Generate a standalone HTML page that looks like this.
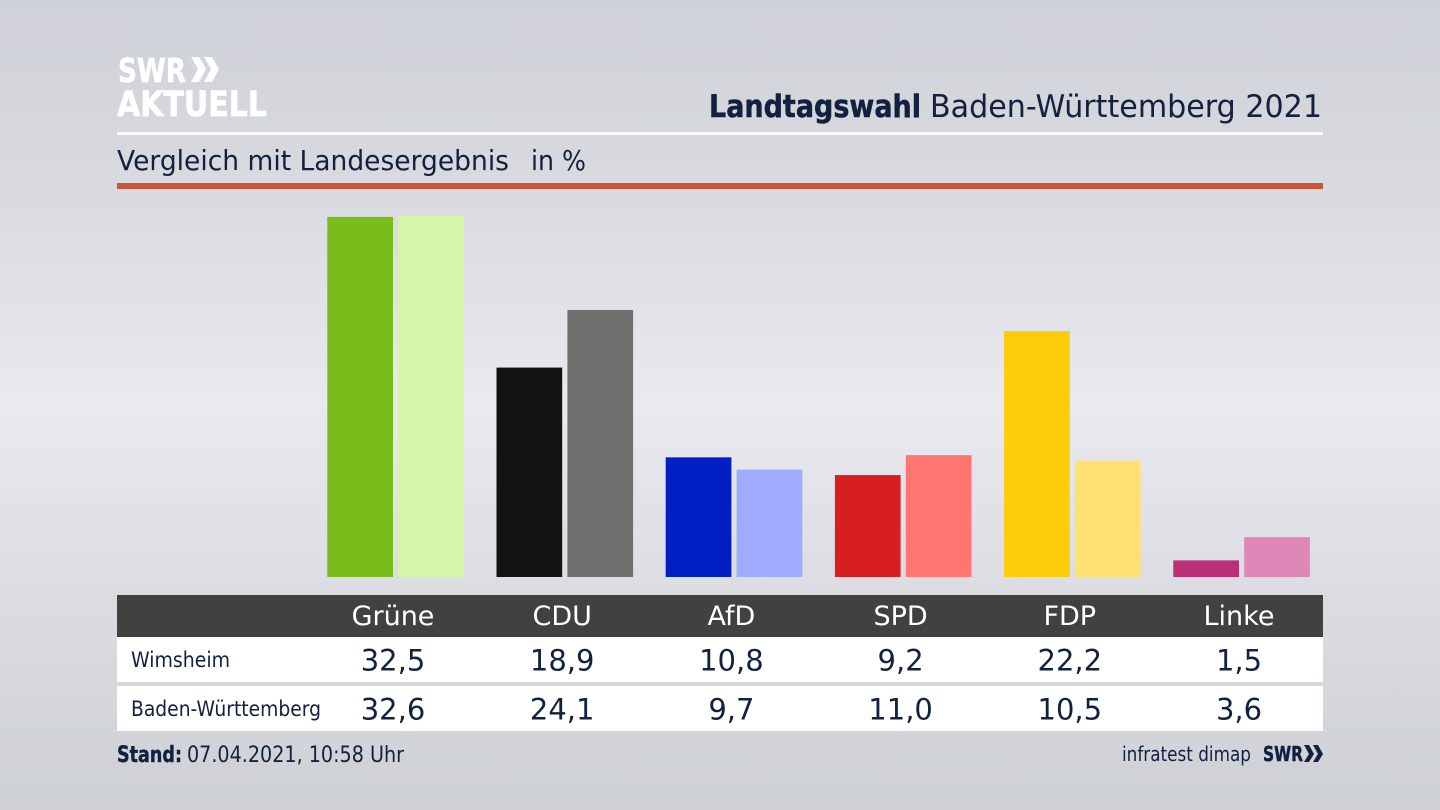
<!DOCTYPE html>
<html lang="de">
<head>
<meta charset="utf-8">
<title>Landtagswahl Baden-Württemberg 2021</title>
<style>
html,body{margin:0;padding:0;width:1440px;height:810px;overflow:hidden;background:#dcdee3}
svg{display:block}
text{font-family:"DejaVu Sans","Liberation Sans",sans-serif;fill:#12213f}
</style>
</head>
<body>
<svg id="chart" width="1440" height="810" viewBox="0 0 1440 810" xmlns="http://www.w3.org/2000/svg">
  <defs>
    <linearGradient id="bg" x1="0" y1="0" x2="0" y2="1">
      <stop offset="0" stop-color="#ced1d7"/>
      <stop offset="0.25" stop-color="#d9dbe0"/>
      <stop offset="0.5" stop-color="#e9eaef"/>
      <stop offset="0.76" stop-color="#d9dbe0"/>
      <stop offset="1" stop-color="#cdd0d5"/>
    </linearGradient>
  </defs>
  <rect x="0" y="0" width="1440" height="810" fill="url(#bg)"/>

  <g>
    <text x="118" y="82" font-size="33" font-weight="700" style="fill:#fff;stroke:#fff;stroke-width:.7" textLength="68" lengthAdjust="spacingAndGlyphs">SWR</text>
    <polygon points="191,57 199,57 206,69 199,82 191,82 198,69" fill="#fff"/>
    <polygon points="204,57 212,57 219,69 212,82 204,82 211,69" fill="#fff"/>
    <text x="117" y="116" font-size="35" font-weight="700" style="fill:#fff;stroke:#fff;stroke-width:.7" textLength="150" lengthAdjust="spacingAndGlyphs">AKTUELL</text>
  </g>

  <text x="709" y="117" font-size="31" font-weight="700" style="stroke:#12213f;stroke-width:.5" textLength="212" lengthAdjust="spacingAndGlyphs">Landtagswahl</text>
  <text x="930" y="117" font-size="31" textLength="392" lengthAdjust="spacingAndGlyphs">Baden-Württemberg 2021</text>
  <rect x="117" y="132" width="1206" height="3" fill="#ffffff"/>
  <text x="117" y="170" font-size="28" textLength="392" lengthAdjust="spacingAndGlyphs">Vergleich mit Landesergebnis</text>
  <text x="531" y="170" font-size="28" textLength="55" lengthAdjust="spacingAndGlyphs">in %</text>
  <rect x="117" y="183" width="1206" height="6" fill="#cb533b"/>

  <g id="bars"></g>

  <rect x="117" y="595" width="1206" height="42" fill="#42413f"/>
  <rect x="117" y="637" width="1206" height="45" fill="#ffffff"/>
  <rect x="117" y="686" width="1206" height="45" fill="#ffffff"/>
  <g id="table"></g>
  <text x="131" y="667" font-size="21" textLength="99" lengthAdjust="spacingAndGlyphs">Wimsheim</text>
  <text x="131" y="716" font-size="21" textLength="190" lengthAdjust="spacingAndGlyphs">Baden-Württemberg</text>

  <text x="117" y="762" font-size="22" font-weight="700" style="stroke:#12213f;stroke-width:.4" textLength="65" lengthAdjust="spacingAndGlyphs">Stand:</text>
  <text x="187" y="762" font-size="22" textLength="217" lengthAdjust="spacingAndGlyphs">07.04.2021, 10:58 Uhr</text>
  <text x="1122" y="761" font-size="20" textLength="129" lengthAdjust="spacingAndGlyphs">infratest dimap</text>
  <text x="1263" y="761" font-size="20" font-weight="700" style="stroke:#12213f;stroke-width:.5" textLength="40" lengthAdjust="spacingAndGlyphs">SWR</text>
  <polygon points="1304,745 1309,745 1314,754 1309,762 1304,762 1309,754" fill="#12213f"/>
  <polygon points="1313,745 1318,745 1323,754 1318,762 1313,762 1318,754" fill="#12213f"/>
</svg>
<script>
const parties = ["Grüne", "CDU", "AfD", "SPD", "FDP", "Linke"];
const localValues = [32.5, 18.9, 10.8, 9.2, 22.2, 1.5];
const stateValues = [32.6, 24.1, 9.7, 11.0, 10.5, 3.6];
const localColors = ["#78bd19", "#131313", "#0020c4", "#d71f1f", "#ffcc0a", "#bb2f77"];
const stateColors = ["#d5f5a8", "#71706e", "#9eabff", "#ff7570", "#ffe070", "#df88b8"];

const NS = "http://www.w3.org/2000/svg";
const baseline = 577;
const pxPerUnit = 11.08;
const firstCenter = 393;
const groupStep = 169.2;
const barWidth = 65.7;
function xCenter(i) { return firstCenter + i * groupStep; }
function yValue(v) { return baseline - v * pxPerUnit; }
function fmt(v) { return v.toFixed(1).replace(".", ","); }

const barsGroup = document.getElementById("bars");
const tableGroup = document.getElementById("table");

function addBar(x, value, color) {
  const r = document.createElementNS(NS, "rect");
  r.setAttribute("x", x);
  r.setAttribute("y", yValue(value));
  r.setAttribute("width", barWidth);
  r.setAttribute("height", baseline - yValue(value));
  r.setAttribute("fill", color);
  return r;
}
function addText(str, x, y, size, fill) {
  const t = document.createElementNS(NS, "text");
  t.setAttribute("x", x);
  t.setAttribute("y", y);
  t.setAttribute("font-size", size);
  t.setAttribute("text-anchor", "middle");
  if (fill) t.style.fill = fill;
  t.textContent = str;
  return t;
}

parties.forEach(function (party, i) {
  const c = xCenter(i);

  const local = addBar(c - barWidth, localValues[i], localColors[i]);
  
  
  barsGroup.appendChild(local);

  const state = addBar(c + 5.2, stateValues[i], stateColors[i]);
  
  
  barsGroup.appendChild(state);

  const head = addText(party, c, 625, 27, "#ffffff");
  
  
  tableGroup.appendChild(head);

  const lv = addText(fmt(localValues[i]), c, 670.5, 29);
  
  
  tableGroup.appendChild(lv);

  const sv = addText(fmt(stateValues[i]), c, 719.5, 29);
  
  
  tableGroup.appendChild(sv);
});
</script>
</body>
</html>
